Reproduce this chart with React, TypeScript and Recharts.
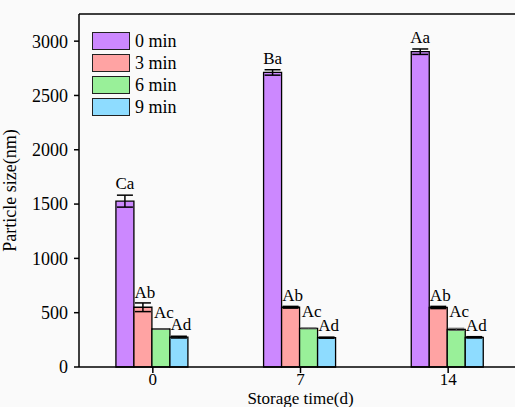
import React from "react";
import { BarChart, Bar, XAxis, YAxis, ErrorBar, LabelList, ReferenceLine, Legend } from "recharts";

const categories = ["0", "7", "14"];
const series0 = [1527, 2712, 2903];
const series3 = [550, 550, 548];
const series6 = [350, 355, 347];
const series9 = [275, 270, 273];
const err0 = [55, 25, 25];
const err3 = [40, 8, 10];
const err6 = [4, 4, 10];
const err9 = [8, 5, 6];
const labels0 = ["Ca", "Ba", "Aa"];
const labels3 = ["Ab", "Ab", "Ab"];
const labels6 = ["Ac", "Ac", "Ac"];
const labels9 = ["Ad", "Ad", "Ad"];
const yTicks = [0, 500, 1000, 1500, 2000, 2500, 3000];
const seriesNames = ["0 min", "3 min", "6 min", "9 min"];
const colors = ["#CC88FF", "#FFA3A3", "#99F099", "#8EDCFF"];

const data = categories.map((c, i) => ({
  cat: c,
  s0: series0[i], s3: series3[i], s6: series6[i], s9: series9[i],
  e0: err0[i], e3: err3[i], e6: err6[i], e9: err9[i],
  l0: labels0[i], l3: labels3[i], l6: labels6[i], l9: labels9[i],
}));

const FONT = "'Liberation Serif', 'Times New Roman', serif";
const Y_MAX = 3250;
const PLOT_H = 353;

const makeLabel = (errs: number[], extra: number, dx: number) => (props: any) => {
  const { x, y, width, value, index } = props;
  const errPx = (errs[index] || 0) * PLOT_H / Y_MAX;
  return (
    <text
      x={x + width / 2 + dx}
      y={y - errPx - extra}
      textAnchor="middle"
      fontFamily={FONT}
      fontSize={17}
      fill="#000"
    >
      {value}
    </text>
  );
};

const LegendBox = () => (
  <div style={{ position: "absolute", left: 92, top: 30, fontFamily: FONT, fontSize: 18, whiteSpace: "nowrap", width: 120 }}>
    {seriesNames.map((n, i) => (
      <div key={n} style={{ display: "flex", alignItems: "center", height: 22 }}>
        <div style={{ width: 36, height: 16, background: colors[i], border: "1.5px solid #222", marginRight: 5, flexShrink: 0 }} />
        <span style={{ color: "#000", lineHeight: "18px" }}>{n}</span>
      </div>
    ))}
  </div>
);

export default function App() {
  return (
    <div style={{ position: "absolute", left: 0, top: 0, width: 515, height: 407, overflow: "hidden", background: "#fafafa" }}>
      <BarChart
        width={522}
        height={407}
        data={data}
        margin={{ top: 14, right: 0, left: 0, bottom: 0 }}
        barCategoryGap="25%"
        barGap={0}
      >
        <XAxis
          dataKey="cat"
          height={40}
          tickSize={6}
          tickMargin={0}
          axisLine={{ stroke: "#000", strokeWidth: 1.5 }}
          tickLine={{ stroke: "#000", strokeWidth: 1.5 }}
          tick={{ fill: "#000", fontFamily: FONT, fontSize: 17 }}
          label={{ value: "Storage time(d)", position: "insideBottom", offset: 3, fill: "#000", fontFamily: FONT, fontSize: 17 }}
        />
        <YAxis
          width={79}
          domain={[0, Y_MAX]}
          ticks={yTicks}
          interval={0}
          tickSize={5}
          tickMargin={6}
          axisLine={{ stroke: "#000", strokeWidth: 1.5 }}
          tickLine={{ stroke: "#000", strokeWidth: 1.5 }}
          tick={{ fill: "#000", fontFamily: FONT, fontSize: 18 }}
          label={{ value: "Particle size(nm)", angle: -90, position: "insideLeft", offset: 10, style: { textAnchor: "middle" }, fill: "#000", fontFamily: FONT, fontSize: 18 }}
        />
        <ReferenceLine y={Y_MAX} stroke="#000" strokeWidth={1.5} />
        <Legend content={<LegendBox />} wrapperStyle={{ position: "absolute", left: 0, top: 0, width: 0, height: 0 }} />
        <Bar dataKey="s0" name={seriesNames[0]} fill={colors[0]} stroke="#000" strokeWidth={1.3} isAnimationActive={false}>
          <ErrorBar dataKey="e0" width={8} stroke="#000" strokeWidth={1.5} />
          <LabelList dataKey="l0" content={makeLabel(err0, 6, 0)} />
        </Bar>
        <Bar dataKey="s3" name={seriesNames[1]} fill={colors[1]} stroke="#000" strokeWidth={1.3} isAnimationActive={false}>
          <ErrorBar dataKey="e3" width={8} stroke="#000" strokeWidth={1.5} />
          <LabelList dataKey="l3" content={makeLabel(err3, 5, 2)} />
        </Bar>
        <Bar dataKey="s6" name={seriesNames[2]} fill={colors[2]} stroke="#000" strokeWidth={1.3} isAnimationActive={false}>
          <ErrorBar dataKey="e6" width={8} stroke="#555" strokeWidth={1} />
          <LabelList dataKey="l6" content={makeLabel(err6, 11, 3)} />
        </Bar>
        <Bar dataKey="s9" name={seriesNames[3]} fill={colors[3]} stroke="#000" strokeWidth={1.3} isAnimationActive={false}>
          <ErrorBar dataKey="e9" width={8} stroke="#000" strokeWidth={1.5} />
          <LabelList dataKey="l9" content={makeLabel(err9, 6, 2)} />
        </Bar>
      </BarChart>
    </div>
  );
}
